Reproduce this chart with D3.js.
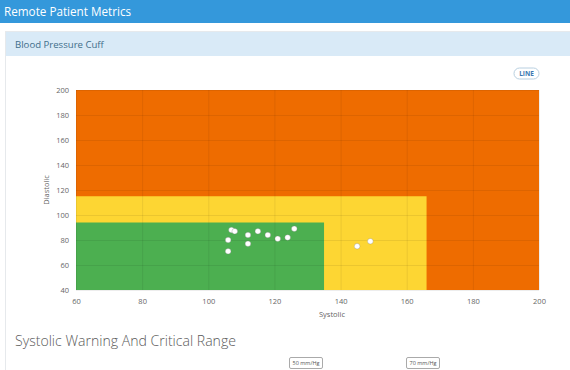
<!DOCTYPE html>
<html>
<head>
<meta charset="utf-8">
<script src="https://cdn.jsdelivr.net/npm/d3@7"></script>
<style>
  body { margin: 0; background: #fff; font-family: "Open Sans", sans-serif; overflow: hidden; }
  #page { position: relative; width: 570px; height: 370px; }
</style>
</head>
<body>
<div id="page"></div>
<script>
// readings taken off the cuff
var systolic  = [107, 108, 106, 112, 115, 118, 121, 124, 126, 112, 106, 145, 149];
var diastolic = [ 88,  87,  80,  84,  87,  84,  81,  82,  89,  77,  71,  75,  79];

// range zones, drawn biggest first
var zoneNames  = ["Critical", "Warning", "Normal"];
var zoneSys    = [200, 166, 135];
var zoneDia    = [200, 115, 94];
var zoneColors = ["#ee6c00", "#fdd633", "#4caf50"];

var xTicks = [60, 80, 100, 120, 140, 160, 180, 200];
var yTicks = [40, 60, 80, 100, 120, 140, 160, 180, 200];
var rangeButtons = ["50 mm/Hg", "70 mm/Hg"];

var width = 570, height = 370;
var svg = d3.select("#page").append("svg")
    .attr("width", width)
    .attr("height", height);

// top bar
svg.append("rect").attr("x", 0).attr("y", 0).attr("width", width).attr("height", 23).attr("fill", "#3498db");
svg.append("text").attr("x", 4).attr("y", 16)
    .attr("fill", "#fff").style("font-size", "11.7px")
    .text("Remote Patient Metrics");

// panel
svg.append("rect").attr("x", 5.5).attr("y", 31.5).attr("width", 570).attr("height", 400)
    .attr("fill", "#fff").attr("stroke", "#e6e9ec");
svg.append("rect").attr("x", 6).attr("y", 32).attr("width", 570).attr("height", 24).attr("fill", "#d9eaf7");
svg.append("text").attr("x", 15).attr("y", 47.5)
    .attr("fill", "#3f6e8a").style("font-size", "9.6px")
    .text("Blood Pressure Cuff");

// LINE pill
var pill = svg.append("g").attr("transform", "translate(514,68)");
pill.append("rect").attr("width", 25).attr("height", 11).attr("rx", 5.5)
    .attr("fill", "#fff").attr("stroke", "#b8cfe0");
pill.append("text").attr("x", 12.5).attr("y", 8.2).attr("text-anchor", "middle")
    .attr("fill", "#3a78b0").style("font-size", "6.5px").style("font-weight", "bold")
    .text("LINE");

var margin = {top: 90, left: 76, right: 31, bottom: 80};
var w = width - margin.left - margin.right,
    h = 290 - margin.top;

var x = d3.scaleLinear().domain([60, 200]).range([0, w]);
var y = d3.scaleLinear().domain([40, 200]).range([h, 0]);

var g = svg.append("g").attr("transform", "translate(" + margin.left + "," + margin.top + ")");

g.selectAll(".zone")
    .data(zoneNames)
  .enter().append("rect")
    .attr("class", "zone")
    .attr("x", x(60))
    .attr("y", function(d, i) { return y(zoneDia[i]); })
    .attr("width", function(d, i) { return x(zoneSys[i]) - x(60); })
    .attr("height", function(d, i) { return y(40) - y(zoneDia[i]); })
    .attr("fill", function(d, i) { return zoneColors[i]; });

// grid over the zones
g.append("g")
    .call(d3.axisBottom(x).tickValues(xTicks).tickSize(-h).tickFormat(""))
    .attr("transform", "translate(0," + h + ")")
    .call(function(s) { s.select(".domain").remove(); })
    .selectAll("line").attr("stroke", "rgba(0,0,0,0.07)");
g.append("g")
    .call(d3.axisLeft(y).tickValues(yTicks).tickSize(-w).tickFormat(""))
    .call(function(s) { s.select(".domain").remove(); })
    .selectAll("line").attr("stroke", "rgba(0,0,0,0.07)");

// tick labels
var xAxis = g.append("g")
    .attr("transform", "translate(0," + h + ")")
    .call(d3.axisBottom(x).tickValues(xTicks).tickSize(0).tickPadding(9));
var yAxis = g.append("g")
    .call(d3.axisLeft(y).tickValues(yTicks).tickSize(0).tickPadding(7));
[xAxis, yAxis].forEach(function(a) {
  a.select(".domain").remove();
  a.selectAll("text").attr("fill", "#666").style("font-size", "7.5px").style("font-family", "Open Sans, sans-serif");
});

svg.append("text").attr("x", 332).attr("y", 317).attr("text-anchor", "middle")
    .attr("fill", "#666").style("font-size", "7.5px")
    .text("Systolic");
svg.append("text").attr("transform", "translate(49,190) rotate(-90)").attr("text-anchor", "middle")
    .attr("fill", "#666").style("font-size", "7.5px")
    .text("Diastolic");

// readings
g.selectAll(".pt")
    .data(systolic)
  .enter().append("circle")
    .attr("class", "pt")
    .attr("cx", function(d) { return x(d); })
    .attr("cy", function(d, i) { return y(diastolic[i]); })
    .attr("r", 2.8)
    .attr("fill", "#fff")
    .attr("stroke", "rgba(120,120,120,0.5)")
    .attr("stroke-width", 0.6);

// section below
svg.append("text").attr("x", 15).attr("y", 346)
    .attr("fill", "#5a5a5a").style("font-size", "14px").style("font-weight", "300")
    .attr("textLength", 221).attr("lengthAdjust", "spacingAndGlyphs")
    .text("Systolic Warning And Critical Range");

var bx = [289, 406];
rangeButtons.forEach(function(t, i) {
  var b = svg.append("g").attr("transform", "translate(" + bx[i] + ",357)");
  b.append("rect").attr("x", 0.5).attr("y", 0.5).attr("width", 33).attr("height", 11).attr("rx", 1.5)
      .attr("fill", "#fff").attr("stroke", "#aaa");
  b.append("text").attr("x", 17).attr("y", 8).attr("text-anchor", "middle")
      .attr("fill", "#555").style("font-size", "5.5px")
      .text(t);
});
</script>
</body>
</html>
